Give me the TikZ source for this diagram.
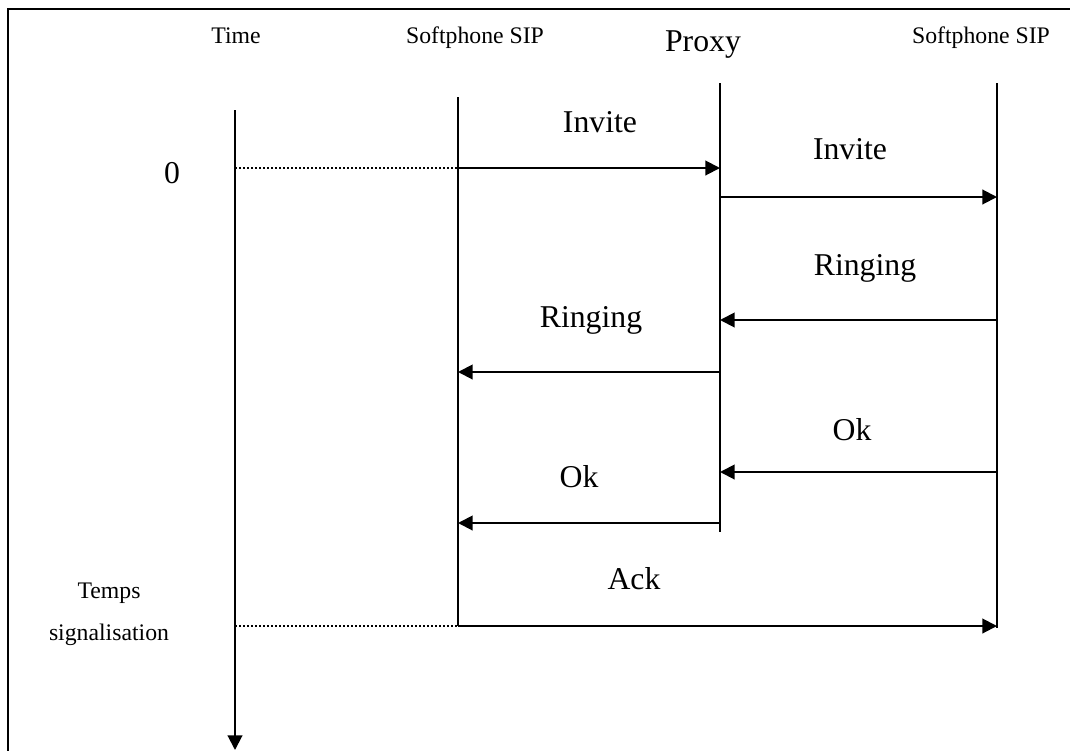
\documentclass[tikz,border=0pt]{standalone}
\usepackage{fontspec}
\setmainfont{Liberation Serif}
\usetikzlibrary{arrows.meta}
\begin{document}
\begin{tikzpicture}[x=0.75pt,y=-0.75pt,
  life/.style={line width=1.5pt},
  msg/.style={line width=1.5pt,-{Triangle[length=11pt,width=11pt]}},
  dots/.style={line width=1.5pt,dash pattern=on 1.5pt off 1.5pt},
  frame/.style={line width=2pt},
  small/.style={font=\fontsize{17.8pt}{20pt}\selectfont,anchor=base,inner sep=0pt},
  big/.style={font=\fontsize{23.8pt}{27pt}\selectfont,anchor=base,inner sep=0pt}]
\useasboundingbox (0,0) rectangle (1070,750);
% frame
\coordinate (fTL) at (8,9);
\coordinate (fTR) at (1075,9);
\coordinate (fBL) at (8,755);
\draw[frame] (fTR) -- (fTL) -- (fBL);
% lifelines
\coordinate (tTop) at (235,110);
\coordinate (tBot) at (235,750);
\coordinate (aTop) at (458,97);
\coordinate (aBot) at (458,626);
\coordinate (pTop) at (720,83);
\coordinate (pBot) at (720,532);
\coordinate (bTop) at (997,83);
\coordinate (bBot) at (997,628);
\draw[msg] (tTop) -- (tBot);
\draw[life] (aTop) -- (aBot);
\draw[life] (pTop) -- (pBot);
\draw[life] (bTop) -- (bBot);
% headers
\node[small] (hTime) at (236,43) {Time};
\node[small] (hA) at (475,43) {Softphone SIP};
\node[big] (hP) at (703,51) {Proxy};
\node[small] (hB) at (981,43) {Softphone SIP};
% messages
\coordinate (t0) at (235,168);
\coordinate (a0) at (458,168);
\coordinate (p0) at (720,168);
\draw[dots] (t0) -- (a0);
\draw[msg] (a0) -- (p0);
\coordinate (p1) at (720,197);
\coordinate (b1) at (997,197);
\draw[msg] (p1) -- (b1);
\coordinate (b2) at (997,320);
\coordinate (p2) at (720,320);
\draw[msg] (b2) -- (p2);
\coordinate (p3) at (720,372);
\coordinate (a3) at (458,372);
\draw[msg] (p3) -- (a3);
\coordinate (b4) at (997,472);
\coordinate (p4) at (720,472);
\draw[msg] (b4) -- (p4);
\coordinate (p5) at (720,523);
\coordinate (a5) at (458,523);
\draw[msg] (p5) -- (a5);
\coordinate (t6) at (235,626);
\coordinate (a6) at (458,626);
\coordinate (b6) at (997,626);
\draw[dots] (t6) -- (a6);
\draw[msg] (a6) -- (b6);
% labels
\node[big] (l0) at (172,183) {0};
\node[big] (lInv1) at (600,132) {Invite};
\node[big] (lInv2) at (850,159) {Invite};
\node[big] (lRing1) at (865,275) {Ringing};
\node[big] (lRing2) at (591,327) {Ringing};
\node[big] (lOk1) at (852,440) {Ok};
\node[big] (lOk2) at (579,487) {Ok};
\node[big] (lAck) at (634,589) {Ack};
\node[small] (lT1) at (109,598) {Temps};
\node[small] (lT2) at (109,640) {signalisation};
\end{tikzpicture}
\end{document}
